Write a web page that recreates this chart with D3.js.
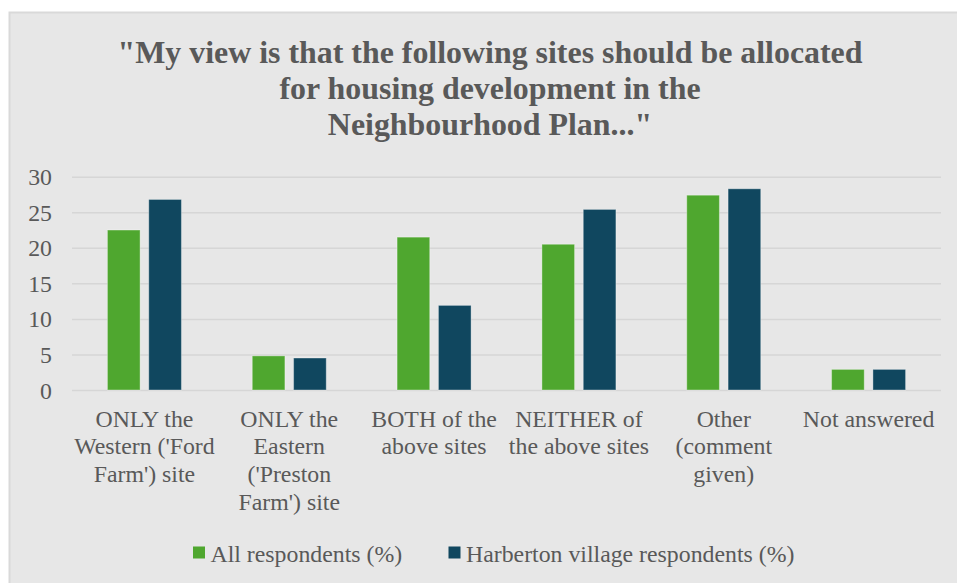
<!DOCTYPE html>
<html>
<head>
<meta charset="utf-8">
<script src="https://cdn.jsdelivr.net/npm/d3@7"></script>
<style>
  html, body { margin: 0; padding: 0; background: #ffffff; }
  svg { display: block; }
  text { font-family: "Liberation Serif", "Times New Roman", serif; fill: #595959; }
</style>
</head>
<body>
<svg id="chart" width="957" height="583"></svg>
<script>
// Survey answers: share of respondents per preferred site option
const categories = [
  "ONLY the\nWestern ('Ford\nFarm') site",
  "ONLY the\nEastern\n('Preston\nFarm') site",
  "BOTH of the\nabove sites",
  "NEITHER of\nthe above sites",
  "Other\n(comment\ngiven)",
  "Not answered"
];
const seriesNames = ["All respondents (%)", "Harberton village respondents (%)"];
const allRespondents = [22.5, 4.8, 21.5, 20.5, 27.4, 2.9];
const villageRespondents = [26.8, 4.5, 11.9, 25.4, 28.3, 2.9];
const yTicks = [0, 5, 10, 15, 20, 25, 30];
const titleLines = [
  "\"My view is that the following sites should be allocated",
  "for housing development in the",
  "Neighbourhood Plan...\""
];
const colors = ["#4fa72f", "#10475f"];

const seriesValues = [allRespondents, villageRespondents];
const rows = categories.map((c, i) => ({
  cat: c,
  values: seriesNames.map((s, j) => ({ series: s, value: seriesValues[j][i], color: colors[j] }))
}));

const svg = d3.select("#chart");
const labelSize = 23.8;

// Chart area background
svg.append("rect")
  .attr("x", 9.5).attr("y", 12.5)
  .attr("width", 960).attr("height", 580)
  .attr("fill", "#e7e7e7")
  .attr("stroke", "#d9d9d9")
  .attr("stroke-width", 2);

// Title
svg.append("g").selectAll("text")
  .data(titleLines)
  .join("text")
  .attr("x", 490)
  .attr("y", (d, i) => 63 + i * 36)
  .attr("text-anchor", "middle")
  .attr("font-size", 31.9)
  .attr("font-weight", "bold")
  .text(d => d);

const plot = { left: 72, right: 941, top: 176.7, bottom: 390 };

const y = d3.scaleLinear().domain([0, 30]).range([plot.bottom, plot.top]);
const x0 = d3.scaleBand().domain(categories).range([plot.left, plot.right]).padding(0);
const groupW = 74;
const x1 = d3.scaleBand().domain(seriesNames)
  .range([(x0.bandwidth() - groupW) / 2, (x0.bandwidth() + groupW) / 2])
  .paddingInner(0.21);

// Horizontal gridlines
svg.append("g")
  .attr("transform", `translate(${plot.left},0)`)
  .call(d3.axisLeft(y).tickValues(yTicks).tickSize(-(plot.right - plot.left)).tickFormat(""))
  .call(g => g.select(".domain").remove())
  .call(g => g.selectAll(".tick line").attr("stroke", "#d6d6d6").attr("stroke-width", 1.5));

// Y tick labels
svg.append("g")
  .attr("transform", `translate(52,0)`)
  .call(d3.axisLeft(y).tickValues(yTicks).tickSize(0).tickPadding(0))
  .call(g => g.select(".domain").remove())
  .call(g => g.selectAll(".tick text")
    .attr("font-family", "Liberation Serif, Times New Roman, serif")
    .attr("font-size", labelSize)
    .attr("fill", "#595959")
    .attr("dy", "0.34em"));

// Bars
svg.append("g").selectAll("g")
  .data(rows)
  .join("g")
  .attr("transform", d => `translate(${x0(d.cat)},0)`)
  .selectAll("rect")
  .data(d => d.values)
  .join("rect")
  .attr("x", d => x1(d.series))
  .attr("width", x1.bandwidth())
  .attr("y", d => y(d.value))
  .attr("height", d => y(0) - y(d.value))
  .attr("fill", d => d.color)
  .attr("stroke", "rgba(255,255,255,0.35)")
  .attr("stroke-width", 1);

// Category labels (multi-line)
const xl = svg.append("g").selectAll("text")
  .data(categories)
  .join("text")
  .attr("text-anchor", "middle")
  .attr("font-size", labelSize)
  .attr("transform", d => `translate(${x0(d) + x0.bandwidth() / 2},426.7)`);
xl.selectAll("tspan")
  .data(d => d.split("\n"))
  .join("tspan")
  .attr("x", 0)
  .attr("y", (d, i) => i * 27.8)
  .text(d => d);

// Legend
const legendItems = [
  { name: seriesNames[0], color: colors[0], x: 193 },
  { name: seriesNames[1], color: colors[1], x: 448.5 }
];
const lg = svg.append("g").selectAll("g")
  .data(legendItems)
  .join("g")
  .attr("transform", d => `translate(${d.x},0)`);
lg.append("rect")
  .attr("x", 0).attr("y", 546.5)
  .attr("width", 12).attr("height", 12)
  .attr("fill", d => d.color);
lg.append("text")
  .attr("x", 17.5).attr("y", 561.5)
  .attr("font-size", labelSize)
  .text(d => d.name);
</script>
</body>
</html>
